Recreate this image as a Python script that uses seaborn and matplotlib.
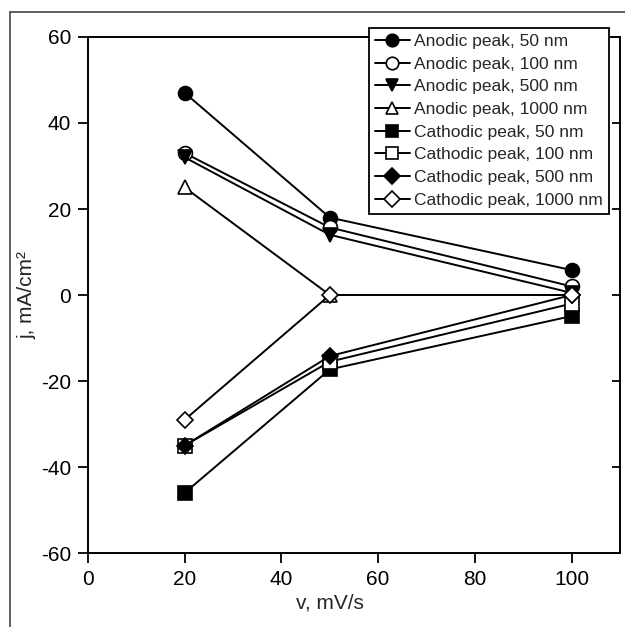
import matplotlib
matplotlib.use("Agg")
import matplotlib.pyplot as plt
import matplotlib.lines as mlines
import seaborn as sns
import pandas as pd

sns.set_style("ticks")
plt.rcParams['font.family'] = ['Liberation Sans', 'DejaVu Sans']
plt.rcParams['axes.unicode_minus'] = False

# scan rate, mV/s
rate = [20, 50, 100]

# peak current density, mA/cm2
anodic_50 = [47, 18, 5.8]
anodic_100 = [33, 15.7, 2]
anodic_500 = [32, 14, 0.5]
anodic_1000 = [25, 0, 0]
cathodic_50 = [-46, -17.3, -4.9]
cathodic_100 = [-35, -15.5, -2]
cathodic_500 = [-35, -14.2, 0]
cathodic_1000 = [-29, 0, 0]

names = ["Anodic peak, 50 nm", "Anodic peak, 100 nm", "Anodic peak, 500 nm",
         "Anodic peak, 1000 nm", "Cathodic peak, 50 nm", "Cathodic peak, 100 nm",
         "Cathodic peak, 500 nm", "Cathodic peak, 1000 nm"]
values = [anodic_50, anodic_100, anodic_500, anodic_1000,
          cathodic_50, cathodic_100, cathodic_500, cathodic_1000]
marks = ["o", "o", "v", "^", "s", "s", "D", "D"]
fills = ["black", "white", "black", "white", "black", "white", "black", "white"]
sizes = [10, 10, 10, 10, 9.5, 9.5, 8.5, 8.5]

rows = []
for n, v in zip(names, values):
    for x, y in zip(rate, v):
        rows.append({"series": n, "v": x, "j": y})
df = pd.DataFrame(rows)

fig = plt.figure(figsize=(6.25, 6.27), dpi=100)
ax = fig.add_axes([0.1408, 0.118, 0.8512, 0.823])

handles = []
for n, m, fc, ms in zip(names, marks, fills, sizes):
    d = df[df["series"] == n]
    sns.lineplot(data=d, x="v", y="j", ax=ax, color="black", linewidth=1.4,
                 marker=m, markersize=ms, markerfacecolor=fc,
                 markeredgecolor="black", markeredgewidth=1.2, legend=False)
    handles.append(mlines.Line2D([], [], color="black", linewidth=1.4, marker=m,
                                 markersize=ms * 0.9, markerfacecolor=fc,
                                 markeredgecolor="black", markeredgewidth=1.2, label=n))

ax.set_xlim(0, 110)
ax.set_ylim(-60, 60)
ax.set_xticks([0, 20, 40, 60, 80, 100])
ax.set_yticks([-60, -40, -20, 0, 20, 40, 60])
ax.tick_params(axis="both", direction="out", length=7, width=1.3, labelsize=15,
               color="black", labelcolor="black")
ax.tick_params(axis="x", pad=5.5)
ax.tick_params(axis="y", pad=5)
for side in ["left", "right", "top", "bottom"]:
    ax.spines[side].set_visible(True)
    ax.spines[side].set_color("black")
    ax.spines[side].set_linewidth(1.4)

# inward ticks on the right spine, no labels
sec = ax.secondary_yaxis("right")
sec.set_yticks([-60, -40, -20, 0, 20, 40, 60])
sec.tick_params(direction="in", length=6, width=1.3, labelright=False, color="black")
sec.spines["right"].set_visible(False)

ax.set_xlabel("v, mV/s", fontsize=15, labelpad=3)
ax.xaxis.label.set_x(0.455)
ax.set_ylabel("j, mA/cm²", fontsize=15)
ax.yaxis.set_label_coords(-0.097, 0.5)

leg = fig.legend(handles=handles, loc="upper right", bbox_to_anchor=(0.9744, 0.9553),
                 fontsize=12.5, frameon=True, fancybox=False, edgecolor="black",
                 handlelength=2.0, handletextpad=0.25, labelspacing=0.43,
                 borderpad=0.35, borderaxespad=0)
leg.get_frame().set_linewidth(1.3)
leg.get_frame().set_alpha(1)

# outer panel frame (left and top edges)
fig.add_artist(mlines.Line2D([0.016, 0.016], [0, 0.981], color="#444444", linewidth=1.2))
fig.add_artist(mlines.Line2D([0.016, 1.0], [0.981, 0.981], color="#444444", linewidth=1.2))

fig.savefig("out.png", dpi=100, facecolor="white")
